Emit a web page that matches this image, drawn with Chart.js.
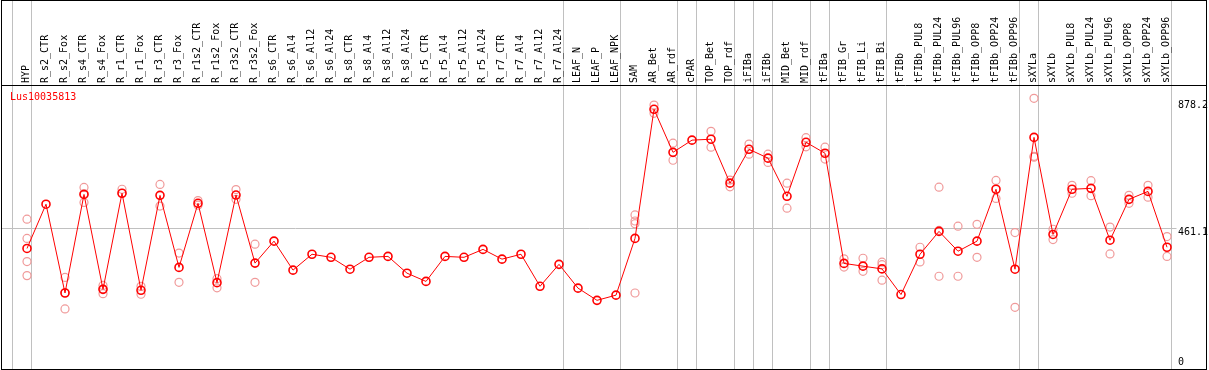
<!DOCTYPE html>
<html><head><meta charset="utf-8">
<script src="https://cdn.jsdelivr.net/npm/chart.js@4/dist/chart.umd.min.js"></script>
<style>html,body{margin:0;padding:0;background:#fff;overflow:hidden}#wrap{width:1209px;height:370px}</style>
</head><body><div id="wrap"><canvas id="c" width="1209" height="370"></canvas></div>
<script>
const geneName = 'Lus10035813';
const categories = ['HYP','R_s2_CTR','R_s2_Fox','R_s4_CTR','R_s4_Fox','R_r1_CTR','R_r1_Fox','R_r3_CTR','R_r3_Fox','R_r1s2_CTR','R_r1s2_Fox','R_r3s2_CTR','R_r3s2_Fox','R_s6_CTR','R_s6_Al4','R_s6_Al12','R_s6_Al24','R_s8_CTR','R_s8_Al4','R_s8_Al12','R_s8_Al24','R_r5_CTR','R_r5_Al4','R_r5_Al12','R_r5_Al24','R_r7_CTR','R_r7_Al4','R_r7_Al12','R_r7_Al24','LEAF_N','LEAF_P','LEAF_NPK','SAM','AR_Bet','AR_rdf','cPAR','TOP_Bet','TOP_rdf','iFIBa','iFIBb','MID_Bet','MID_rdf','tFIBa','tFIB_Gr','tFIB_Li','tFIB_Bi','tFIBb','tFIBb_PUL8','tFIBb_PUL24','tFIBb_PUL96','tFIBb_OPP8','tFIBb_OPP24','tFIBb_OPP96','sXYLa','sXYLb','sXYLb_PUL8','sXYLb_PUL24','sXYLb_PUL96','sXYLb_OPP8','sXYLb_OPP24','sXYLb_OPP96'];
const meanValues = [395,540,249,572,261,576,258,569,333,543,283,570,347,419,324,376,366,327,366,369,314,287,369,366,392,360,376,271,343,265,225,242,428,851,710,750,753,609,720,691,566,743,707,346,337,328,244,376,451,386,419,589,327,759,441,589,592,422,556,582,399];
const replicateValues = [
 [491,428,352,306],[],[300,197,250],[595,546,575],[274,247,262],[589,576],[271,245],[605,534],[380,284],[552,537],[296,266],[588,556],[409,284],
 [],[],[],[],[],[],[],[],[],[],[],[],[],[],[],[],[],[],[],
 [505,485,476,249],[865,838],[740,684],[],[779,727],[619,597],[737,704],[704,677],[609,527],[758,728],[727,688],
 [361,334],[363,320],[350,291,342],[],[399,351],[596,304,454],[468,304],[474,366],[618,559],[447,202],
 [887,697,694],[458,424],[602,576],[617,568],[465,377],[569,543],[602,563],[434,369]
];
const yTickValues = [878.2, 461.1, 0];
const yTickLabels = ['878.2', '461.1', '0'];
const gridValue = 461.1;
const groupEnds = [-1,0,28,31,34,35,37,38,39,41,42,45,52,53,60];

const FONT = '10px "DejaVu Sans Mono", "Liberation Mono", monospace';

const meanData = meanValues.map((v,i)=>({x:i,y:v}));
const repData = [];
replicateValues.forEach((arr,i)=>arr.forEach(v=>repData.push({x:i,y:v})));

const framePlugin = {
  id:'frame',
  beforeDatasetsDraw(chart){
    const ctx=chart.ctx, xs=chart.scales.x, ys=chart.scales.y, ca=chart.chartArea;
    ctx.save();
    ctx.strokeStyle='#c0c0c0'; ctx.lineWidth=1;
    groupEnds.forEach(g=>{
      const px=Math.round(xs.getPixelForValue(g+0.2))+0.5;
      ctx.beginPath(); ctx.moveTo(px,0); ctx.lineTo(px,ca.bottom); ctx.stroke();
    });
    const gy=Math.round(ys.getPixelForValue(gridValue))+0.5;
    ctx.beginPath(); ctx.moveTo(ca.left,gy); ctx.lineTo(xs.getPixelForValue(categories.length-0.5),gy); ctx.stroke();
    ctx.restore();
  },
  afterDraw(chart){
    const ctx=chart.ctx, xs=chart.scales.x, ys=chart.scales.y, ca=chart.chartArea;
    ctx.save();
    ctx.font=FONT; ctx.fillStyle='#000';
    categories.forEach((c,i)=>{
      const px=xs.getPixelForValue(i);
      ctx.save(); ctx.translate(px+1.5,83); ctx.rotate(-Math.PI/2);
      ctx.textAlign='left'; ctx.textBaseline='alphabetic'; ctx.fillText(c,0,0); ctx.restore();
    });
    ctx.textAlign='left';
    yTickValues.forEach((v,k)=>{
      const py=ys.getPixelForValue(v);
      if(v===0){ ctx.textBaseline='bottom'; ctx.fillText(yTickLabels[k],1178,py-2); }
      else { ctx.textBaseline='top'; ctx.fillText(yTickLabels[k],1178,py-1); }
    });
    ctx.fillStyle='#ff0000'; ctx.textBaseline='middle';
    ctx.fillText(geneName,10,97);
    ctx.strokeStyle='#000'; ctx.lineWidth=1;
    ctx.strokeRect(1.5,0.5,1205,369);
    ctx.beginPath(); ctx.moveTo(1,85.5); ctx.lineTo(1207,85.5); ctx.stroke();
    ctx.restore();
  }
};

new Chart(document.getElementById('c'),{
  type:'line',
  data:{datasets:[
    {data:meanData, borderColor:'#ff0000', borderWidth:1, pointRadius:4, pointBorderWidth:1.6, pointBorderColor:'#ff0000', pointBackgroundColor:'rgba(0,0,0,0)', showLine:true, tension:0, order:0},
    {data:repData, showLine:false, pointRadius:4, pointBorderWidth:1.2, pointBorderColor:'#f09a9a', pointBackgroundColor:'rgba(0,0,0,0)', order:1}
  ]},
  options:{
    responsive:false, animation:false, events:[],
    layout:{autoPadding:false, padding:{left:2,right:2,top:86,bottom:1}},
    scales:{
      x:{type:'linear', min:-1.3158, max:62.105, display:false},
      y:{type:'linear', min:0, max:927.4, display:false}
    },
    plugins:{legend:{display:false}, tooltip:{enabled:false}}
  },
  plugins:[framePlugin]
});
</script></body></html>
